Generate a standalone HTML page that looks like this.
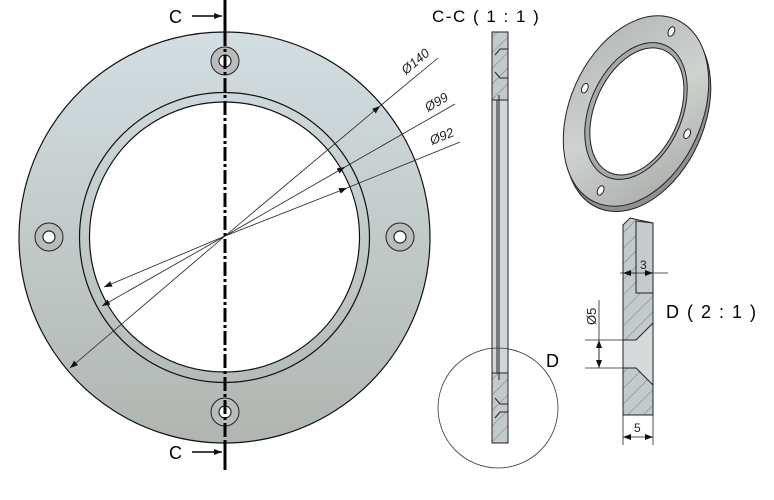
<!DOCTYPE html>
<html><head><style>body{margin:0;background:#fff}svg{display:block}text{font-family:"Liberation Sans",sans-serif}</style></head>
<body>
<svg width="774" height="500" viewBox="0 0 774 500" xmlns="http://www.w3.org/2000/svg">
<defs>
<linearGradient id="g" x1="0" y1="0" x2="0" y2="1">
<stop offset="0" stop-color="#d3dee2"/><stop offset="0.45" stop-color="#c4cccc"/><stop offset="1" stop-color="#b0b5b0"/></linearGradient>
<linearGradient id="g2" x1="0" y1="0" x2="1" y2="1">
<stop offset="0" stop-color="#b0b4b0"/><stop offset="0.5" stop-color="#cfd2cf"/><stop offset="1" stop-color="#a3a6a2"/></linearGradient>
<pattern id="h" width="11" height="11" patternUnits="userSpaceOnUse" patternTransform="rotate(45)"><rect width="11" height="11" fill="#c3cacd"/><line x1="0" y1="0" x2="0" y2="11" stroke="#444" stroke-width="0.6"/></pattern>
<marker id="a" markerWidth="8" markerHeight="6" refX="8" refY="3" orient="auto" markerUnits="userSpaceOnUse"><path d="M0,0 L8,3 L0,6z" fill="#111"/></marker>
</defs>
<path fill-rule="evenodd" d="M224.5,32 a205.5,205.5 0 1,0 0.01,0 Z M224.5,102 a135,135 0 1,0 0.01,0 Z" fill="url(#g)" stroke="#111" stroke-width="1.2"/>
<circle cx="224.5" cy="237.5" r="145" fill="none" stroke="#111" stroke-width="1.2"/>
<g fill="#b8bcba" stroke="#222" stroke-width="1">
<circle cx="225" cy="61" r="14"/><circle cx="49" cy="237" r="14"/><circle cx="400" cy="237" r="14"/><circle cx="225" cy="412" r="14"/></g>
<g fill="#fff" stroke="#222" stroke-width="1.2">
<circle cx="225" cy="61" r="6"/><circle cx="49" cy="237" r="6"/><circle cx="400" cy="237" r="6"/><circle cx="225" cy="412" r="6"/></g>
<line x1="225" y1="0" x2="225" y2="32" stroke="#000" stroke-width="3"/>
<line x1="225" y1="32" x2="225" y2="443" stroke="#000" stroke-width="3" stroke-dasharray="14,3,3,3"/>
<line x1="225" y1="443" x2="225" y2="470" stroke="#000" stroke-width="3"/>
<line x1="192" y1="16" x2="222" y2="16" stroke="#000" stroke-width="1.5" marker-end="url(#a)"/>
<line x1="192" y1="452" x2="222" y2="452" stroke="#000" stroke-width="1.5" marker-end="url(#a)"/>
<text x="169" y="23" font-size="18">C</text>
<text x="169" y="459" font-size="18">C</text>
<g stroke="#222" stroke-width="0.8" fill="none">
<line x1="225" y1="236" x2="70" y2="368" marker-end="url(#a)"/><line x1="225" y1="236" x2="380" y2="106" marker-end="url(#a)"/><line x1="380" y1="106" x2="438" y2="58"/>
<line x1="225" y1="236" x2="102" y2="306" marker-end="url(#a)"/><line x1="225" y1="236" x2="345" y2="167" marker-end="url(#a)"/><line x1="345" y1="167" x2="455" y2="104"/>
<line x1="225" y1="236" x2="104" y2="287" marker-end="url(#a)"/><line x1="225" y1="236" x2="347" y2="188" marker-end="url(#a)"/><line x1="347" y1="188" x2="460" y2="142"/>
</g>
<text transform="translate(406,75) rotate(-40)" font-size="13" font-style="italic" fill="#222">Ø140</text>
<text transform="translate(428,112) rotate(-30)" font-size="13" font-style="italic" fill="#222">Ø99</text>
<text transform="translate(432,145) rotate(-22)" font-size="13" font-style="italic" fill="#222">Ø92</text>
<text x="432" y="22" font-size="17" letter-spacing="1.5">C-C ( 1 : 1 )</text>
<rect x="492" y="32" width="16" height="68" fill="url(#h)" stroke="#222"/>
<rect x="492" y="373" width="16" height="70" fill="url(#h)" stroke="#222"/>
<path d="M495,55 L500,49 L508,49 M495,72 L500,78 L508,78" fill="none" stroke="#222"/>
<rect x="492" y="100" width="16" height="273" fill="#d0d6da" stroke="#222"/>
<line x1="497" y1="100" x2="497" y2="373" stroke="#222"/>
<line x1="499" y1="95" x2="499" y2="380" stroke="#222"/>
<path d="M495,398 L500,404 L508,404 M495,418 L500,412 L508,412" fill="none" stroke="#222"/>
<circle cx="498" cy="408" r="60" fill="none" stroke="#333" stroke-width="0.8"/>
<text x="546" y="367" font-size="18">D</text>
<g transform="translate(636,111) rotate(24)">
<ellipse cx="4" cy="4" rx="66" ry="100" fill="#8e918e" stroke="#222"/>
<ellipse cx="0" cy="0" rx="66" ry="100" fill="url(#g2)" stroke="#222"/>
<ellipse cx="0" cy="0" rx="46" ry="72" fill="#a5a9a5" stroke="#222"/>
<ellipse cx="1" cy="0" rx="42" ry="67" fill="#fff" stroke="#222"/>
<g fill="#fff" stroke="#222"><ellipse cx="0" cy="-87" rx="3" ry="5"/><ellipse cx="0" cy="87" rx="3" ry="5"/><ellipse cx="-56" cy="0" rx="3" ry="5"/><ellipse cx="56" cy="0" rx="3" ry="5"/></g>
</g>
<path d="M623,225 L630,218 L653,223 L653,415 L623,415 Z" fill="url(#h)" stroke="#222"/>
<path d="M636,221 L636,293 L653,293 L653,223 Z" fill="#c5cbcc" stroke="#222"/>
<path d="M623,340 L636,340 L653,323 L653,385 L636,368 L623,368 Z" fill="#d6dadb" stroke="#222"/>
<g stroke="#222" stroke-width="0.8" fill="none">
<line x1="620" y1="273" x2="668" y2="273"/><line x1="636" y1="273" x2="623" y2="273" marker-end="url(#a)"/><line x1="643" y1="273" x2="653" y2="273" marker-end="url(#a)"/>
<line x1="585" y1="340" x2="630" y2="340"/><line x1="585" y1="368" x2="630" y2="368"/>
<line x1="599" y1="300" x2="599" y2="368"/><line x1="599" y1="354" x2="599" y2="340" marker-end="url(#a)"/><line x1="599" y1="354" x2="599" y2="368" marker-end="url(#a)"/>
<line x1="623" y1="415" x2="623" y2="445"/><line x1="653" y1="415" x2="653" y2="445"/>
<line x1="638" y1="437" x2="623" y2="437" marker-end="url(#a)"/><line x1="638" y1="437" x2="653" y2="437" marker-end="url(#a)"/>
</g>
<text x="640" y="269" font-size="12" fill="#222">3</text>
<text transform="translate(596,325) rotate(-90)" font-size="13" fill="#222">Ø5</text>
<text x="634" y="432" font-size="12" fill="#222">5</text>
<text x="666" y="318" font-size="18" letter-spacing="1.5">D ( 2 : 1 )</text>
</svg>
</body></html>
